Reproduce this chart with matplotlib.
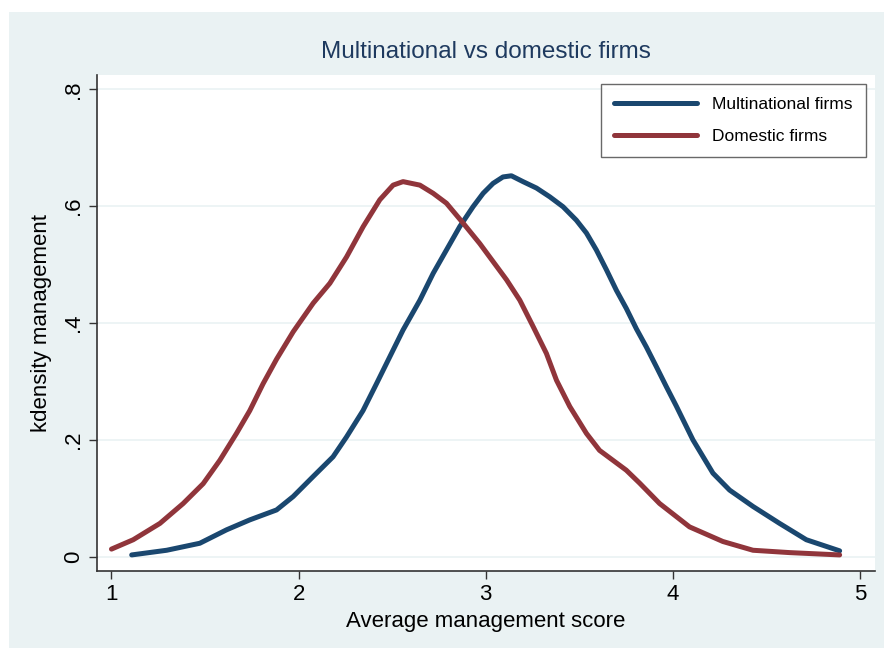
import matplotlib
matplotlib.use("Agg")
import matplotlib.pyplot as plt
from matplotlib.patches import Rectangle

plt.rcParams['font.family'] = ['Liberation Sans', 'DejaVu Sans']

# Multinational firms (kdensity)
multi_x = [1.108, 1.295, 1.472, 1.615, 1.739, 1.882, 1.971, 2.077, 2.184, 2.256,
           2.344, 2.416, 2.487, 2.558, 2.648, 2.719, 2.790, 2.861, 2.932, 2.986,
           3.039, 3.092, 3.137, 3.199, 3.271, 3.342, 3.413, 3.484, 3.538, 3.591,
           3.645, 3.698, 3.751, 3.805, 3.858, 3.912, 3.965, 4.018, 4.107, 4.214,
           4.303, 4.428, 4.570, 4.713, 4.891]
multi_y = [0.003, 0.011, 0.023, 0.046, 0.063, 0.080, 0.103, 0.137, 0.171, 0.205,
           0.250, 0.296, 0.342, 0.388, 0.439, 0.485, 0.525, 0.565, 0.599, 0.622,
           0.639, 0.650, 0.652, 0.642, 0.631, 0.616, 0.599, 0.576, 0.554, 0.525,
           0.491, 0.456, 0.425, 0.390, 0.359, 0.325, 0.291, 0.258, 0.200, 0.143,
           0.114, 0.086, 0.057, 0.029, 0.010]

# Domestic firms (kdensity)
dom_x = [1.000, 1.116, 1.259, 1.383, 1.490, 1.579, 1.668, 1.739, 1.810, 1.882,
         1.971, 2.078, 2.167, 2.256, 2.345, 2.434, 2.505, 2.558, 2.648, 2.719,
         2.790, 2.879, 2.968, 3.021, 3.111, 3.182, 3.253, 3.324, 3.378, 3.449,
         3.538, 3.608, 3.751, 3.822, 3.929, 4.089, 4.267, 4.428, 4.623, 4.891]
dom_y = [0.013, 0.029, 0.057, 0.091, 0.125, 0.165, 0.211, 0.250, 0.296, 0.338,
         0.385, 0.434, 0.468, 0.513, 0.565, 0.611, 0.636, 0.642, 0.636, 0.622,
         0.605, 0.571, 0.536, 0.513, 0.474, 0.439, 0.394, 0.348, 0.302, 0.257,
         0.211, 0.182, 0.148, 0.126, 0.091, 0.051, 0.026, 0.011, 0.007, 0.003]

x_ticks = [1, 2, 3, 4, 5]
x_tick_labels = ['1', '2', '3', '4', '5']
y_ticks = [0, 0.2, 0.4, 0.6, 0.8]
y_tick_labels = ['0', '.2', '.4', '.6', '.8']

BG = '#EAF2F3'
BLUE = '#1A476F'
RED = '#90353B'
AXC = '#333333'

W, H = 884, 648
fig = plt.figure(figsize=(W / 100, H / 100), dpi=100, facecolor='white')
fig.patches.append(Rectangle((9 / W, 0), 1 - 9 / W, 1 - 12 / H,
                             transform=fig.transFigure, facecolor=BG,
                             edgecolor='none', zorder=-10))

left, right, top, bottom = 97, 875, 75, 571
ax = fig.add_axes([left / W, 1 - bottom / H, (right - left) / W, (bottom - top) / H])
ax.set_facecolor('white')

ax.plot(multi_x, multi_y, color=BLUE, lw=3.6, solid_capstyle='round',
        solid_joinstyle='round', label='Multinational firms', zorder=3)
ax.plot(dom_x, dom_y, color=RED, lw=3.6, solid_capstyle='round',
        solid_joinstyle='round', label='Domestic firms', zorder=3)

ax.set_xlim(0.9226, 5.080)
ax.set_ylim(-0.0245, 0.8245)

ax.set_xticks(x_ticks)
ax.set_xticklabels(x_tick_labels, fontsize=16)
ax.set_yticks(y_ticks)
ax.set_yticklabels(y_tick_labels, fontsize=16, rotation=90, va='center')

for s in ['top', 'right']:
    ax.spines[s].set_visible(False)
for s in ['left', 'bottom']:
    ax.spines[s].set_color(AXC)
    ax.spines[s].set_linewidth(1.2)
ax.tick_params(axis='both', direction='out', length=5.5, width=1.0,
               color=AXC, pad=4, labelcolor='black')

ax.yaxis.grid(True, color=BG, lw=1.2)
ax.set_axisbelow(True)

ax.set_xlabel('Average management score', fontsize=16, labelpad=4)
ax.set_ylabel('kdensity management', fontsize=16, labelpad=8)
ax.set_title('Multinational vs domestic firms', fontsize=17.5, color='#1E3A5F', pad=12)

leg = ax.legend(loc='upper right',
                bbox_to_anchor=((866 - left) / (right - left), 1 - (84 - top) / (bottom - top)),
                fontsize=12.5, frameon=True, fancybox=False, handlelength=4.8,
                handletextpad=0.9, borderpad=0.75, labelspacing=0.95, borderaxespad=0)
leg.get_frame().set_edgecolor('#444444')
leg.get_frame().set_linewidth(1.0)
for l in leg.get_lines():
    l.set_linewidth(3.6)

fig.savefig('out.png', dpi=100, facecolor='white')
